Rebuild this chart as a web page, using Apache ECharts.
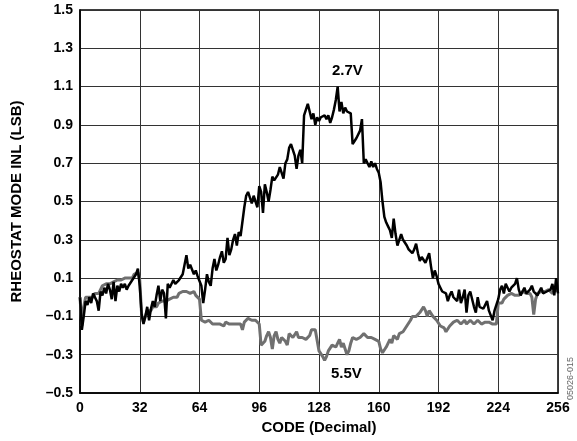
<!DOCTYPE html>
<html><head><meta charset="utf-8">
<script src="https://cdn.jsdelivr.net/npm/echarts@6/dist/echarts.min.js"></script>
<style>html,body{margin:0;padding:0;background:#fff}#c{width:577px;height:441px}</style>
</head><body><div id="c"></div>
<script>
// INL (LSB) per code 0..256
const inl27 = [
0.00,-0.17,-0.10,-0.02,-0.04,0.00,-0.03,0.02,0.00,-0.02,-0.07,0.03,0.01,0.05,0.02,0.07,
0.04,-0.01,0.08,-0.02,0.06,0.03,0.07,0.05,0.07,0.04,0.06,0.05,0.09,0.08,0.12,0.15,
0.06,-0.09,-0.14,-0.10,-0.05,-0.12,-0.06,-0.02,-0.05,0.01,0.06,-0.02,0.04,0.02,-0.11,0.07,
0.05,0.06,0.09,0.07,0.08,0.09,0.09,0.12,0.13,0.22,0.15,0.17,0.17,0.12,0.14,0.11,
0.12,0.06,-0.03,0.04,0.12,0.08,0.06,0.15,0.20,0.14,0.17,0.21,0.24,0.18,0.20,0.31,
0.22,0.25,0.30,0.33,0.27,0.34,0.32,0.33,0.47,0.53,0.55,0.52,0.49,0.53,0.50,0.47,
0.58,0.55,0.44,0.59,0.55,0.50,0.56,0.63,0.61,0.60,0.64,0.68,0.65,0.62,0.70,0.72,
0.78,0.80,0.79,0.74,0.67,0.74,0.77,0.70,0.95,0.98,1.01,0.97,0.93,0.96,0.90,0.94,
0.92,0.94,0.93,0.95,0.93,0.95,0.91,0.94,0.98,1.03,1.10,0.97,1.02,0.96,0.99,0.97,
0.96,0.96,0.80,0.79,0.83,0.83,0.87,0.93,0.70,0.72,0.70,0.68,0.71,0.68,0.70,0.67,
0.65,0.60,0.50,0.42,0.39,0.37,0.35,0.31,0.41,0.33,0.27,0.28,0.33,0.30,0.31,0.27,
0.25,0.24,0.23,0.25,0.28,0.23,0.19,0.21,0.20,0.18,0.19,0.23,0.16,0.10,0.14,0.11,
0.07,0.05,0.03,0.04,0.02,-0.02,0.01,0.03,0.00,0.00,-0.02,0.04,-0.03,0.00,0.04,-0.08,
0.01,0.03,0.04,-0.05,-0.08,0.00,-0.05,-0.04,-0.06,-0.07,-0.02,-0.07,-0.08,-0.12,-0.07,-0.04,
-0.01,0.04,0.06,0.02,0.07,0.05,0.03,0.05,0.04,0.07,0.10,0.04,0.01,0.03,0.05,0.02,
0.01,0.04,0.06,0.03,0.04,0.01,0.03,0.05,0.02,0.01,0.03,0.02,0.04,0.07,0.01,0.10,
0.02];
const inl55 = [
0.00,-0.15,-0.05,0.00,0.01,0.00,0.01,0.00,0.02,0.01,0.02,0.04,0.06,0.05,0.07,0.08,
0.07,0.07,0.08,0.07,0.09,0.08,0.09,0.08,0.10,0.09,0.10,0.11,0.10,0.12,0.12,0.13,
0.09,-0.09,-0.13,-0.10,-0.07,-0.06,-0.07,-0.05,-0.04,-0.05,-0.03,-0.04,-0.02,-0.03,-0.02,-0.02,
-0.01,-0.02,0.00,0.01,0.00,0.02,0.01,0.03,0.02,0.03,0.04,0.02,0.01,0.03,0.01,0.00,
-0.01,-0.12,-0.11,-0.13,-0.12,-0.12,-0.12,-0.14,-0.13,-0.14,-0.13,-0.14,-0.15,-0.15,-0.13,-0.14,
-0.14,-0.13,-0.14,-0.13,-0.14,-0.15,-0.14,-0.17,-0.13,-0.12,-0.11,-0.11,-0.12,-0.11,-0.12,-0.12,
-0.14,-0.25,-0.24,-0.23,-0.20,-0.18,-0.21,-0.27,-0.20,-0.18,-0.22,-0.24,-0.21,-0.20,-0.23,-0.25,
-0.19,-0.18,-0.21,-0.20,-0.18,-0.21,-0.22,-0.21,-0.20,-0.22,-0.23,-0.20,-0.17,-0.16,-0.17,-0.18,
-0.28,-0.29,-0.31,-0.33,-0.31,-0.28,-0.27,-0.25,-0.24,-0.26,-0.24,-0.22,-0.26,-0.24,-0.27,-0.30,
-0.28,-0.24,-0.21,-0.20,-0.22,-0.21,-0.21,-0.20,-0.19,-0.20,-0.21,-0.20,-0.21,-0.22,-0.22,-0.23,
-0.23,-0.27,-0.29,-0.30,-0.26,-0.25,-0.22,-0.24,-0.20,-0.21,-0.22,-0.19,-0.20,-0.18,-0.17,-0.15,
-0.14,-0.12,-0.10,-0.11,-0.10,-0.10,-0.08,-0.07,-0.05,-0.07,-0.10,-0.07,-0.08,-0.10,-0.11,-0.12,
-0.13,-0.15,-0.14,-0.16,-0.18,-0.17,-0.15,-0.14,-0.13,-0.14,-0.12,-0.13,-0.14,-0.13,-0.12,-0.14,
-0.13,-0.12,-0.13,-0.14,-0.13,-0.12,-0.13,-0.14,-0.15,-0.13,-0.14,-0.13,-0.12,-0.14,-0.13,-0.14,
-0.03,-0.02,-0.03,-0.01,-0.01,0.01,0.00,0.02,0.02,0.01,0.02,0.01,0.02,0.03,0.03,0.02,
0.01,0.02,0.00,-0.09,-0.01,0.02,0.03,0.03,0.02,0.03,0.03,0.04,0.03,0.02,0.03,0.04,
0.03];
const codes = inl27.map((_, i) => i);
const xTicks = [0, 32, 64, 96, 128, 160, 192, 224, 256];
const yTicks = [-0.5, -0.3, -0.1, 0.1, 0.3, 0.5, 0.7, 0.9, 1.1, 1.3, 1.5];

const font = '"Liberation Sans", Arial, sans-serif';
const chart = echarts.init(document.getElementById('c'));
chart.setOption({
  animation: false,
  backgroundColor: '#fff',
  grid: { left: 80, right: 19, top: 10, bottom: 48, show: true, borderColor: '#000', borderWidth: 1.5, backgroundColor: 'transparent' },
  xAxis: {
    type: 'value', min: xTicks[0], max: xTicks[xTicks.length - 1], interval: 32,
    name: 'CODE (Decimal)', nameLocation: 'middle', nameGap: 27,
    nameTextStyle: { fontFamily: font, fontWeight: 'bold', fontSize: 15, color: '#000' },
    axisLine: { show: true, onZero: false, lineStyle: { color: '#000', width: 1.5 } },
    axisTick: { show: false },
    axisLabel: { fontFamily: font, fontWeight: 'bold', fontSize: 14, color: '#000', margin: 8 },
    splitLine: { show: true, lineStyle: { color: '#333', width: 1 } }
  },
  yAxis: {
    type: 'value', min: yTicks[0], max: yTicks[yTicks.length - 1], interval: 0.2,
    name: 'RHEOSTAT MODE INL (LSB)', nameLocation: 'middle', nameGap: 56,
    nameTextStyle: { fontFamily: font, fontWeight: 'bold', fontSize: 15, color: '#000' },
    axisLine: { show: true, onZero: false, lineStyle: { color: '#000', width: 1.5 } },
    axisTick: { show: false },
    axisLabel: { fontFamily: font, fontWeight: 'bold', fontSize: 14, color: '#000', margin: 7,
      formatter: v => { const s = v.toFixed(1); return s.startsWith('-') ? '\u2013' + s.slice(1) : s; } },
    splitLine: { show: true, lineStyle: { color: '#333', width: 1 } }
  },
  series: [
    { name: '5.5V', type: 'line', data: codes.map(i => [i, inl55[i]]), showSymbol: false,
      lineStyle: { color: '#707070', width: 3 }, z: 2 },
    { name: '2.7V', type: 'line', data: codes.map(i => [i, inl27[i]]), showSymbol: false,
      lineStyle: { color: '#000', width: 2.5 }, z: 3 }
  ],
  graphic: [
    { type: 'text', left: 332, top: 63, style: { text: '2.7V', font: 'bold 15px ' + font, fill: '#000' } },
    { type: 'text', left: 331, top: 366, style: { text: '5.5V', font: 'bold 15px ' + font, fill: '#000' } },
    { type: 'text', x: 571, y: 400, rotation: Math.PI / 2, style: { text: '05026-015', font: '9px ' + font, fill: '#666', align: 'left', verticalAlign: 'middle' } }
  ]
});
</script></body></html>
